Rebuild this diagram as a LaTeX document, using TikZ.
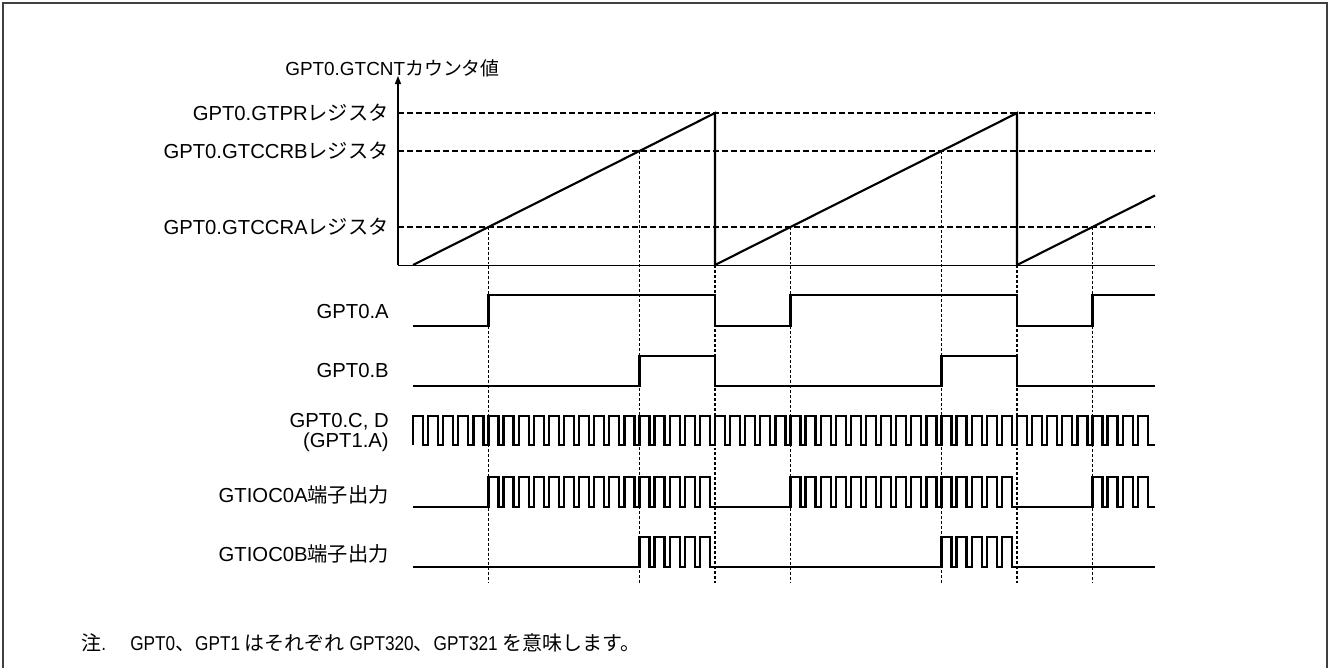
\documentclass[tikz,border=0pt]{standalone}
\usepackage{fontspec}
\setmainfont{Liberation Sans}
\newfontfamily\cjk{Noto Sans CJK JP}
\newfontfamily\narrowsans[FakeStretch=0.86]{Liberation Sans}
\newcommand\J[1]{{\cjk #1}}
\usetikzlibrary{arrows.meta}
\begin{document}
\begin{tikzpicture}[x=0.75pt,y=-0.75pt,
  lbl/.style={anchor=base east, inner sep=0pt, font=\fontsize{15.2pt}{17pt}\selectfont},
  toplbl/.style={anchor=base west, inner sep=0pt, font=\fontsize{14.2pt}{17pt}\selectfont},
  notetxt/.style={anchor=base west, inner sep=0pt, font=\fontsize{15pt}{17pt}\selectfont\narrowsans},
  sig/.style={line width=1.7pt, line join=miter},
  ramp/.style={line width=1.6pt},
  level/.style={line width=1pt, dash pattern=on 4.5pt off 2.25pt},
  guide/.style={line width=0.9pt, dash pattern=on 2.2pt off 1.5pt},
  frame/.style={line width=0.8pt, black!75}]
\useasboundingbox (0,0) rectangle (1330,668);
\draw[frame] (3,668) -- (3,3) -- (1327,3) -- (1327,668);
% axes
\coordinate (O) at (398,265);
\coordinate (Ytop) at (398,76);
\coordinate (Xend) at (1155,265);
\draw[line width=0.9pt,-{Triangle[length=6pt,width=4.5pt]}] (O) -- (Ytop);
\draw[line width=0.7pt] (O) -- (Xend);
% levels
\node[toplbl] (cnt) at (285,75) {GPT0.GTCNT\J{カウンタ値}};
\node[lbl] (pr) at (389,120) {GPT0.GTPR\J{レジスタ}};
\node[lbl] (crb) at (389,158) {GPT0.GTCCRB\J{レジスタ}};
\node[lbl] (cra) at (389,234) {GPT0.GTCCRA\J{レジスタ}};
\draw[level] (398,113) -- (1155,113);
\draw[level] (398,151) -- (1155,151);
\draw[level] (398,227) -- (1155,227);
% ramp
\draw[ramp] (413,265) -- (715,113) -- (715,265) -- (1017,113) -- (1017,265) -- (1155,195.5);
% guides
\foreach \x/\y in {488.5/227, 639.5/151, 715/265, 790.5/227, 941.5/151, 1017/265, 1092.5/227}
  \draw[guide] (\x,\y) -- (\x,583);
% signal labels
\node[lbl] (la) at (389,318) {GPT0.A};
\node[lbl] (lb) at (389,377) {GPT0.B};
\node[lbl] (lc) at (389,427) {GPT0.C, D};
\node[lbl] (lc2) at (389,447) {(GPT1.A)};
\node[lbl] (lo0a) at (389,502) {GTIOC0A\J{端子出力}};
\node[lbl] (lo0b) at (389,561) {GTIOC0B\J{端子出力}};
% GPT0.A
\draw[sig] (413,326) -| (488.5,295) -| (715,326) -| (790.5,295) -| (1017,326) -| (1092.5,295) -- (1155,295);
% GPT0.B
\draw[sig] (413,386) -| (639.5,356) -| (715,386) -| (941.5,356) -| (1017,386) -- (1155,386);
% clock
\draw[sig] (413,445) \foreach \k in {0,...,48}{
  -- ({413+\k*15.1},445) -- ({413+\k*15.1},416) -- ({423+\k*15.1},416) -- ({423+\k*15.1},445) } -- (1155,445);
% GTIOC0A
\draw[sig] (413,507)
  \foreach \k in {5,...,19}{ -- ({413+\k*15.1},507) -- ({413+\k*15.1},477) -- ({423+\k*15.1},477) -- ({423+\k*15.1},507) }
  \foreach \k in {25,...,39}{ -- ({413+\k*15.1},507) -- ({413+\k*15.1},477) -- ({423+\k*15.1},477) -- ({423+\k*15.1},507) }
  \foreach \k in {45,...,48}{ -- ({413+\k*15.1},507) -- ({413+\k*15.1},477) -- ({423+\k*15.1},477) -- ({423+\k*15.1},507) }
  -- (1155,507);
% GTIOC0B
\draw[sig] (413,567)
  \foreach \k in {15,...,19}{ -- ({413+\k*15.1},567) -- ({413+\k*15.1},537) -- ({423+\k*15.1},537) -- ({423+\k*15.1},567) }
  \foreach \k in {35,...,39}{ -- ({413+\k*15.1},567) -- ({413+\k*15.1},537) -- ({423+\k*15.1},537) -- ({423+\k*15.1},567) }
  -- (1155,567);
% note
\node[notetxt] (nlab) at (81,650) {\J{注}.};
\node[notetxt] (ntxt) at (130,650) {GPT0\J{、}GPT1 \J{はそれぞれ} GPT320\J{、}GPT321 \J{を意味します。}};
\end{tikzpicture}
\end{document}
